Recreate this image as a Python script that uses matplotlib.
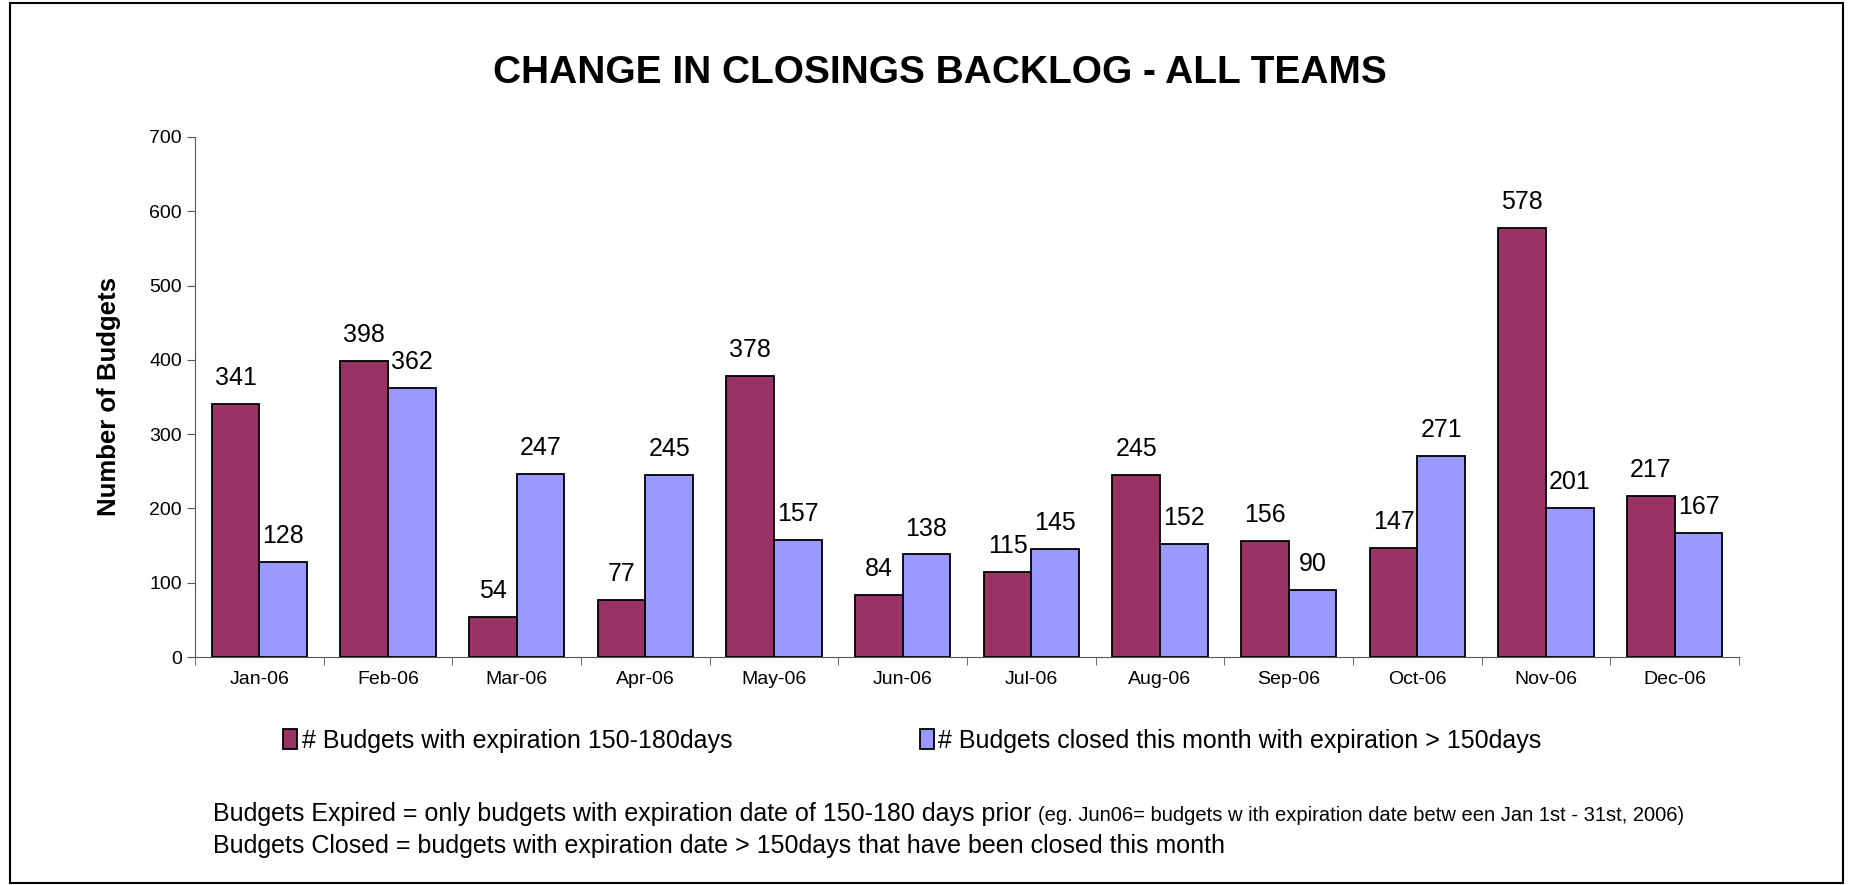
import matplotlib
matplotlib.use("Agg")
import matplotlib.pyplot as plt
import numpy as np
from matplotlib.patches import Rectangle

plt.rcParams['font.family'] = ['Liberation Sans', 'DejaVu Sans']

months = ["Jan-06", "Feb-06", "Mar-06", "Apr-06", "May-06", "Jun-06",
          "Jul-06", "Aug-06", "Sep-06", "Oct-06", "Nov-06", "Dec-06"]
expiring = [341, 398, 54, 77, 378, 84, 115, 245, 156, 147, 578, 217]
closed = [128, 362, 247, 245, 157, 138, 145, 152, 90, 271, 201, 167]
series_names = ["# Budgets with expiration 150-180days",
                "# Budgets closed this month with expiration > 150days"]
yticks = [0, 100, 200, 300, 400, 500, 600, 700]

W, H = 1850, 885
fig = plt.figure(figsize=(W / 100, H / 100), dpi=100)
fig.patches.append(Rectangle((10 / W, 2 / H), 1833 / W, 880 / H, transform=fig.transFigure,
                             fill=False, edgecolor='black', linewidth=1.5))

ax = fig.add_axes([195 / W, 1 - 657 / H, (1739 - 195) / W, (657 - 137) / H])
x = np.arange(len(months))
bw = 0.37
b1 = ax.bar(x - bw / 2, expiring, bw, color='#993366', edgecolor='black', linewidth=1.3,
            label=series_names[0])
b2 = ax.bar(x + bw / 2, closed, bw, color='#9999FF', edgecolor='black', linewidth=1.3,
            label=series_names[1])
for bars in (b1, b2):
    for r in bars:
        ax.annotate(f"{int(r.get_height())}", (r.get_x() + r.get_width() / 2, r.get_height()),
                    xytext=(0, 10), textcoords='offset points', ha='center', va='bottom',
                    fontsize=18)

ax.set_xlim(-0.5, len(months) - 0.5)
ax.set_ylim(0, 700)
ax.set_yticks(yticks)
ax.set_xticks(x)
ax.set_xticklabels(months, fontsize=14)
ax.set_xticks(np.arange(len(months) + 1) - 0.5, minor=True)
ax.tick_params(axis='x', which='major', length=0, pad=10)
ax.tick_params(axis='x', which='minor', length=6, direction='out', color='#555555')
ax.tick_params(axis='y', labelsize=14, length=6, direction='out', color='#555555')
for s in ('top', 'right'):
    ax.spines[s].set_visible(False)
for s in ('left', 'bottom'):
    ax.spines[s].set_color('#555555')
ax.set_ylabel("Number of Budgets", fontsize=18.5, fontweight='bold', labelpad=20)

fig.text(940 / W, 1 - 73 / H, "CHANGE IN CLOSINGS BACKLOG - ALL TEAMS", ha='center', va='center',
         fontsize=28, fontweight='bold')

fig.legend(handles=[b1, b2], labels=series_names, loc='center left',
           bbox_to_anchor=(283 / W, 1 - 741 / H), ncol=2, frameon=False, fontsize=18,
           handlelength=0.55, handleheight=0.85, handletextpad=0.2, columnspacing=7.5,
           borderaxespad=0, borderpad=0)

t1 = fig.text(213 / W, 1 - 821 / H,
              "Budgets Expired = only budgets with expiration date of 150-180 days prior ",
              fontsize=18, va='baseline')
fig.canvas.draw()
bb = t1.get_window_extent()
fig.text(bb.x1 / W, 1 - 821 / H,
         "(eg. Jun06= budgets w ith expiration date betw een Jan 1st - 31st, 2006)",
         fontsize=14.5, va='baseline')
fig.text(213 / W, 1 - 853 / H,
         "Budgets Closed = budgets with expiration date > 150days that have been closed this month",
         fontsize=18, va='baseline')

fig.savefig("out.png", dpi=100)
